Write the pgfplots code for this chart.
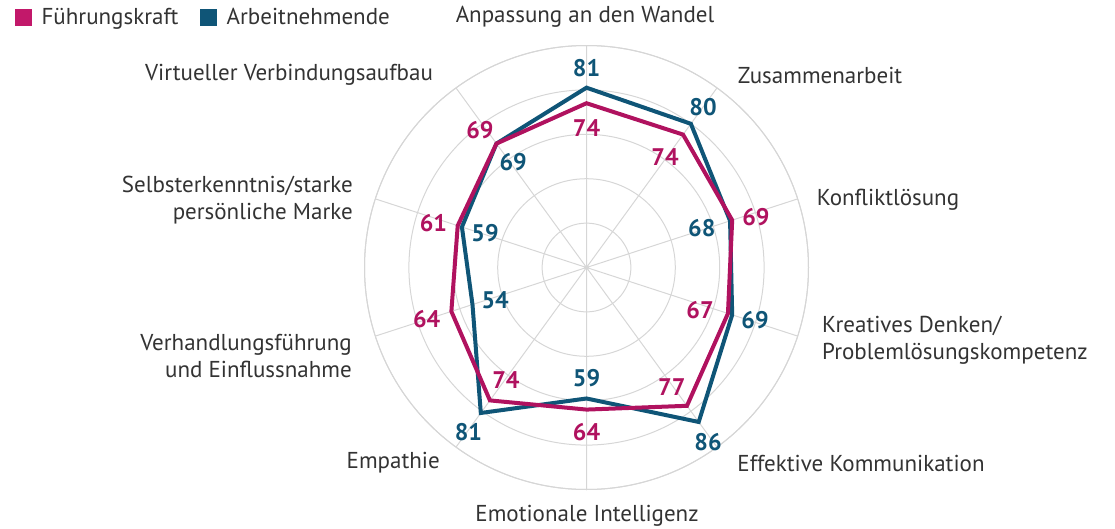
\documentclass[border=0pt]{standalone}
\usepackage{pgfplots}
\pgfplotsset{compat=1.18}
\usepgfplotslibrary{polar}
\usepackage{fontspec}
\setmainfont{PT Sans}
\definecolor{pinkc}{HTML}{B0125F}
\definecolor{pinkl}{HTML}{C2186A}
\definecolor{bluec}{HTML}{0F5577}
\definecolor{gridc}{HTML}{D6D6D6}
\definecolor{textc}{HTML}{333333}
\begin{document}
\begin{tikzpicture}
\path[use as bounding box] (0pt,0pt) rectangle (1115pt,528pt);
\begin{polaraxis}[
  at={(586.5pt,260.5pt)}, anchor=center,
  width=444pt, height=444pt, scale only axis,
  ymin=0, ymax=100,
  ytick={20,40,60,80,100}, yticklabels={},
  xtick={18,54,90,126,162,198,234,270,306,342}, xticklabels={},
  xmajorgrids, ymajorgrids,
  major grid style={draw=gridc, line width=1pt},
  axis line style={draw=gridc, line width=1pt},
  y axis line style={draw=none},
  tick style={draw=none},
  legend style={at={(axis description cs:-0.7872,1.085)}, anchor=north west, draw=none, fill=none,
    legend columns=-1, font=\fontsize{23}{23}\selectfont, text=textc,
    inner sep=0pt, nodes={inner sep=0pt},
    /tikz/every odd column/.append style={column sep=10pt},
    /tikz/every even column/.append style={column sep=22pt}},
]
\addlegendimage{legend image code/.code={\fill[pinkl] (0pt,-8pt) rectangle (16pt,8pt);}}
\addlegendentry{Führungskraft}
\addlegendimage{legend image code/.code={\fill[bluec] (0pt,-8pt) rectangle (16pt,8pt);}}
\addlegendentry{Arbeitnehmende}
% Arbeitnehmende
\addplot[bluec, line width=4pt, line join=miter] coordinates {
 (90,81) (54,80) (18,68) (342,69) (306,86) (270,59) (234,81) (198,54) (162,59) (126,69)} -- cycle;
% Führungskraft
\addplot[pinkc, line width=4pt, line join=miter] coordinates {
 (90,74) (54,74) (18,69) (342,67) (306,77) (270,64) (234,74) (198,64) (162,61) (126,69)} -- cycle;
% value labels
\addplot[draw=none, nodes near coords, point meta=explicit symbolic,
  every node near coord/.append style={anchor=center, inner sep=0pt, text=bluec, font=\bfseries\fontsize{24}{24}\selectfont}]
 coordinates {
 (90,89.9) [81] (54,89.3) [80] (18.9,54.9) [68] (342.7,79.5) [69] (304.9,95.7) [86]
 (270,49.9) [59] (234.3,91.1) [81] (199.6,43.7) [54] (161.4,48.2) [59] (124.7,58) [69]};
\addplot[draw=none, nodes near coords, point meta=explicit symbolic,
  every node near coord/.append style={anchor=center, inner sep=0pt, text=pinkc, font=\bfseries\fontsize{24}{24}\selectfont}]
 coordinates {
 (90,63) [74] (54.7,61.2) [74] (16.7,79.7) [69] (339.5,54.6) [67] (305.6,66) [77]
 (270,74) [64] (234.4,62.3) [74] (198,75.7) [64] (163.9,71.8) [61] (127.8,78.3) [69]};
\end{polaraxis}
\begin{scope}[every node/.style={inner sep=0pt, text=textc, font=\fontsize{23}{27}\selectfont}]
\node at (585pt,511pt) {Anpassung an den Wandel};
\node at (820pt,453pt) {Zusammenarbeit};
\node at (888pt,328pt) {Konfliktlösung};
\node[anchor=west, align=left] at (822pt,187.5pt) {Kreatives Denken/\\Problemlösungskompetenz};
\node at (861pt,65pt) {Effektive Kommunikation};
\node at (587pt,12pt) {Emotionale Intelligenz};
\node[anchor=east] at (440pt,65pt) {Empathie};
\node[anchor=east, align=right] at (352pt,171.5pt) {Verhandlungsführung\\und Einflussnahme};
\node[anchor=east, align=right] at (353pt,327.5pt) {Selbsterkenntnis/starke\\persönliche Marke};
\node at (289pt,453pt) {Virtueller Verbindungsaufbau};
\end{scope}
\end{tikzpicture}
\end{document}
